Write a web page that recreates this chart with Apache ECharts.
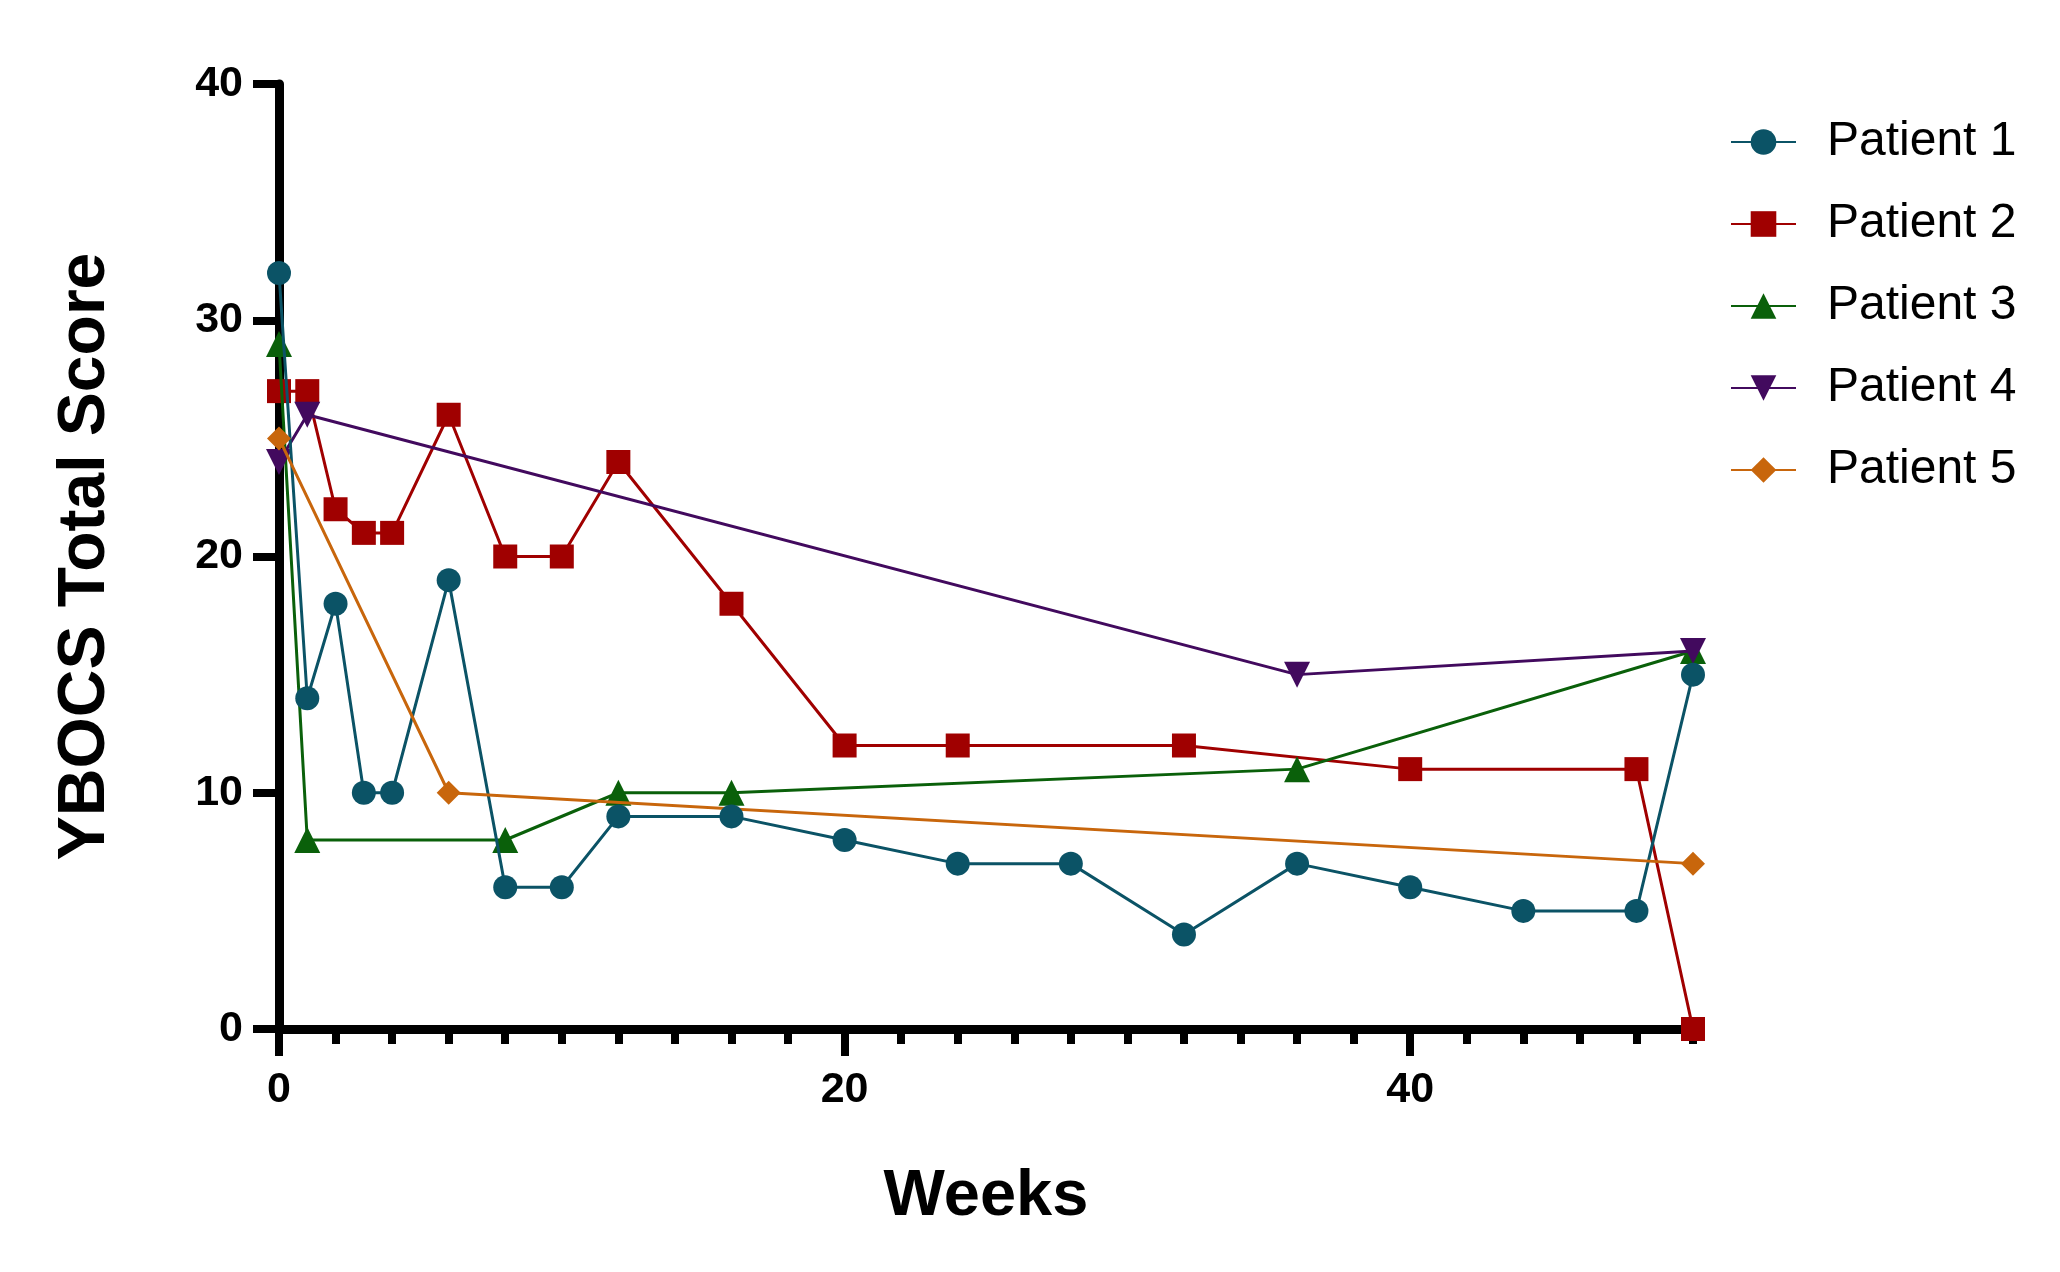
<!DOCTYPE html>
<html>
<head>
<meta charset="utf-8">
<script src="https://cdn.jsdelivr.net/npm/echarts@6/dist/echarts.min.js"></script>
<style>html,body{margin:0;padding:0;background:#fff}#c{width:2060px;height:1272px}</style>
</head>
<body>
<div id="c"></div>
<script>
const seriesNames = ['Patient 1', 'Patient 2', 'Patient 3', 'Patient 4', 'Patient 5'];
const p1Weeks = [0, 1, 2, 3, 4, 6, 8, 10, 12, 16, 20, 24, 28, 32, 36, 40, 44, 48, 50];
const p1Scores = [32, 14, 18, 10, 10, 19, 6, 6, 9, 9, 8, 7, 7, 4, 7, 6, 5, 5, 15];
const p2Weeks = [0, 1, 2, 3, 4, 6, 8, 10, 12, 16, 20, 24, 32, 40, 48, 50];
const p2Scores = [27, 27, 22, 21, 21, 26, 20, 20, 24, 18, 12, 12, 12, 11, 11, 0];
const p3Weeks = [0, 1, 8, 12, 16, 36, 50];
const p3Scores = [29, 8, 8, 10, 10, 11, 16];
const p4Weeks = [0, 1, 36, 50];
const p4Scores = [24, 26, 15, 16];
const p5Weeks = [0, 6, 50];
const p5Scores = [25, 10, 7];
const xTickLabels = [0, 20, 40];
const yTickLabels = [0, 10, 20, 30, 40];

const colors = ['#0b5366', '#a00000', '#0a600a', '#420a5e', '#c8660c'];
const symbols = ['circle', 'rect', 'triangle', 'path://M0,0 L10,0 L5,10 Z', 'diamond'];
const symbolSizes = [24, 24, 26, 26, 24];

function pairs(xs, ys) { return xs.map((x, i) => [x, ys[i]]); }
const allData = [
  pairs(p1Weeks, p1Scores), pairs(p2Weeks, p2Scores), pairs(p3Weeks, p3Scores),
  pairs(p4Weeks, p4Scores), pairs(p5Weeks, p5Scores)
];

const chart = echarts.init(document.getElementById('c'), null, { renderer: 'canvas' });
const font = 'Liberation Sans, Arial, sans-serif';
chart.setOption({
  animation: false,
  backgroundColor: '#fff',
  grid: { left: 279, top: 84, right: 367, bottom: 243, containLabel: false },
  legend: {
    orient: 'vertical',
    left: 1725,
    top: 112,
    itemWidth: 65,
    itemHeight: 32,
    itemGap: 32,
    textStyle: { fontFamily: font, fontSize: 48, color: '#000', lineHeight: 50, padding: [0, 0, 0, 26] },
    data: seriesNames
  },
  xAxis: [{
    type: 'value', min: 0, max: 50, interval: 20,
    name: 'Weeks', nameLocation: 'middle', nameGap: 136,
    nameTextStyle: { fontFamily: font, fontSize: 65, fontWeight: 'bold', color: '#000' },
    axisLine: { show: true, lineStyle: { color: '#000', width: 9 } },
    axisTick: { show: true, length: 27, lineStyle: { color: '#000', width: 8 }, customValues: xTickLabels },
    axisLabel: { fontFamily: font, fontSize: 43, fontWeight: 'bold', color: '#000', margin: 40, customValues: xTickLabels },
    splitLine: { show: false }
  }, {
    type: 'value', min: 0, max: 50, interval: 2, position: 'bottom',
    axisLine: { show: false },
    axisTick: { show: true, length: 15, lineStyle: { color: '#000', width: 8 } },
    axisLabel: { show: false },
    splitLine: { show: false }
  }],
  yAxis: {
    type: 'value', min: 0, max: 40, interval: 10,
    name: 'YBOCS Total Score', nameLocation: 'middle', nameGap: 160, nameRotate: 90,
    nameTextStyle: { fontFamily: font, fontSize: 66, fontWeight: 'bold', color: '#000' },
    axisLine: { show: true, lineStyle: { color: '#000', width: 9 } },
    axisTick: { show: true, length: 26, lineStyle: { color: '#000', width: 8 } },
    axisLabel: { fontFamily: font, fontSize: 43, fontWeight: 'bold', color: '#000', margin: 36, customValues: yTickLabels },
    splitLine: { show: false }
  },
  series: seriesNames.map((name, i) => ({
    name: name,
    type: 'line',
    xAxisIndex: 0,
    data: allData[i],
    symbol: symbols[i],
    symbolSize: symbolSizes[i],
    showAllSymbol: true,
    color: colors[i],
    itemStyle: { color: colors[i] },
    lineStyle: { color: colors[i], width: 3 },
    z: i === 0 ? 7 : 3 + i
  }))
});
</script>
</body>
</html>
